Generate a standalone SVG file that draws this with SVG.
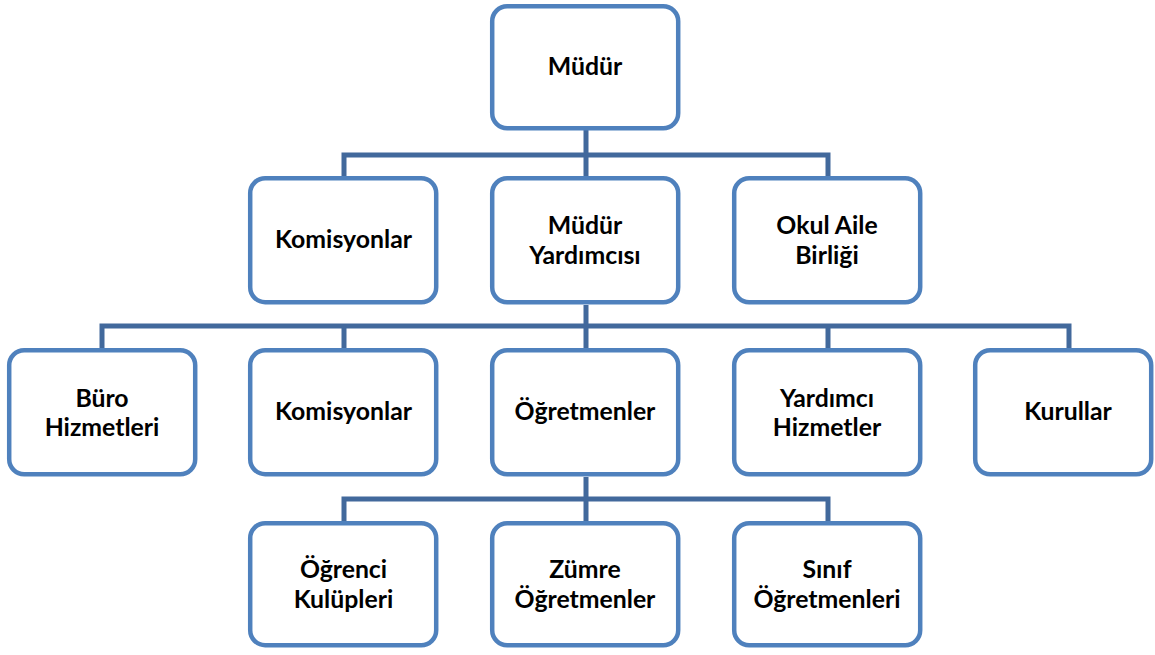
<svg xmlns="http://www.w3.org/2000/svg" width="1155" height="655" viewBox="0 0 1155 655">
<style>
.box{fill:#ffffff;stroke:#4f81bd;stroke-width:4.5}
.t{font-family:Lato,"Liberation Sans",sans-serif;font-weight:bold;font-size:24.8px;fill:#000;text-anchor:middle}
.c{fill:none;stroke:#42699c;stroke-width:5}
</style>
<rect width="1155" height="655" fill="#ffffff"/>
<g id="connectors">
<path class="c" d="M586 130V178M344 178V155H828V178"/>
<path class="c" d="M586 305V349M102 350V326H1069V350M344 326V350M828 326V350"/>
<path class="c" d="M586 477V523M344 523V499H828V523"/>
</g>
<g id="n-mudur"><rect class="box" x="492.2" y="6.2" width="186" height="122" rx="15"/><text class="t" x="585" y="75">Müdür</text></g>
<g id="n-komisyonlar1"><rect class="box" x="250.2" y="178.2" width="186" height="124" rx="15"/><text class="t" x="343.5" y="248">Komisyonlar</text></g>
<g id="n-mudur-yard"><rect class="box" x="492.2" y="178.2" width="186" height="124" rx="15"/><text class="t" x="585" y="234">Müdür</text><text class="t" x="585" y="263.5">Yardımcısı</text></g>
<g id="n-okul-aile"><rect class="box" x="734.2" y="178.2" width="186" height="124" rx="15"/><text class="t" x="827" y="234">Okul Aile</text><text class="t" x="827" y="263.5">Birliği</text></g>
<g id="n-buro"><rect class="box" x="9.2" y="350.2" width="186" height="124" rx="15"/><text class="t" x="102" y="406.5">Büro</text><text class="t" x="102" y="436">Hizmetleri</text></g>
<g id="n-komisyonlar2"><rect class="box" x="250.2" y="350.2" width="186" height="124" rx="15"/><text class="t" x="343.5" y="420">Komisyonlar</text></g>
<g id="n-ogretmenler"><rect class="box" x="492.2" y="350.2" width="186" height="124" rx="15"/><text class="t" x="585" y="420">Öğretmenler</text></g>
<g id="n-yardimci"><rect class="box" x="734.2" y="350.2" width="186" height="124" rx="15"/><text class="t" x="827" y="406.5">Yardımcı</text><text class="t" x="827" y="436">Hizmetler</text></g>
<g id="n-kurullar"><rect class="box" x="975.2" y="350.2" width="176" height="124" rx="15"/><text class="t" x="1068" y="420">Kurullar</text></g>
<g id="n-ogrenci"><rect class="box" x="250.2" y="523.2" width="186" height="122" rx="15"/><text class="t" x="343.5" y="578">Öğrenci</text><text class="t" x="343.5" y="608">Kulüpleri</text></g>
<g id="n-zumre"><rect class="box" x="492.2" y="523.2" width="186" height="122" rx="15"/><text class="t" x="585" y="578">Zümre</text><text class="t" x="585" y="608">Öğretmenler</text></g>
<g id="n-sinif"><rect class="box" x="734.2" y="523.2" width="186" height="122" rx="15"/><text class="t" x="827" y="578">Sınıf</text><text class="t" x="827" y="608">Öğretmenleri</text></g>
</svg>
